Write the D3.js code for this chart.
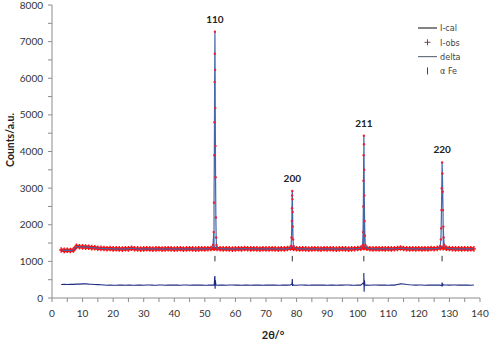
<!DOCTYPE html>
<html>
<head>
<meta charset="utf-8">
<script src="https://cdn.jsdelivr.net/npm/d3@7"></script>
<style>
  html, body { margin: 0; padding: 0; background: #fff; }
  svg { display: block; font-family: Lato, "Open Sans", sans-serif; }
</style>
</head>
<body>
<script>
// background counts, one per degree from 2θ = 3 to 138
const bgStart = 3
const background = [
  1310, 1300, 1305, 1295, 1310,
  1410, 1400, 1395, 1390, 1385,
  1375, 1370, 1360, 1355, 1350, 1345, 1350, 1340,
  1345, 1340, 1335, 1345, 1340, 1360, 1345, 1340, 1335, 1340,
  1345, 1340, 1335, 1340, 1345, 1335, 1340, 1345, 1340, 1335,
  1340, 1345, 1335, 1340, 1345, 1340, 1335, 1340, 1345, 1340,
  1345, 1350, 1360, 1350, 1345, 1340, 1345, 1340, 1335, 1340,
  1345, 1340, 1350, 1345, 1340, 1345, 1340, 1335, 1345, 1340,
  1340, 1345, 1340, 1335, 1345, 1340, 1350, 1365, 1350, 1345,
  1340, 1345, 1340, 1335, 1340, 1345, 1340, 1335, 1345, 1340,
  1345, 1340, 1335, 1340, 1345, 1340, 1335, 1340, 1345, 1350,
  1360, 1370, 1360, 1345, 1340, 1345, 1340, 1345, 1340, 1345,
  1340, 1345, 1350, 1365, 1350, 1345, 1340, 1345, 1340, 1345,
  1340, 1345, 1340, 1350, 1345, 1355, 1370, 1370, 1360, 1350,
  1345, 1340, 1345, 1340, 1345, 1340, 1345, 1340
]

// difference curve (already offset), one per degree from 2θ = 3
const deltaBase = [
  370, 372, 368, 375, 372, 378, 380, 385, 390, 380,
  375, 370, 365, 360, 355, 350, 352, 348, 350, 352,
  355, 350, 356, 352, 350, 355, 352, 349, 353, 356,
  352, 350, 355, 353, 349, 352, 356, 351, 354, 350,
  353, 356, 350, 352, 355, 351, 354, 350, 352, 356,
  353, 350, 355, 352, 349, 353, 356, 351, 352, 350,
  354, 352, 349, 355, 351, 353, 350, 352, 355, 351,
  353, 350, 352, 356, 351, 354, 352, 349, 353, 355,
  352, 350, 354, 352, 356, 351, 353, 350, 355, 352,
  350, 354, 351, 353, 356, 352, 350, 354, 352, 351,
  354, 350, 353, 356, 352, 351, 354, 350, 353, 352,
  370, 385, 382, 368, 360, 355, 352, 356, 353, 350,
  354, 352, 356, 351, 353, 358, 355, 352, 356, 353,
  351, 354, 352, 355, 350, 353
]

// peak profiles [2θ, counts]
const peak110 = [[52.7, 1450], [52.9, 1800], [53.0, 2600], [53.1, 3900], [53.15, 4800], [53.2, 5900], [53.25, 6670], [53.3, 7270], [53.35, 6230], [53.4, 5190], [53.45, 4150], [53.5, 3300], [53.6, 2200], [53.7, 1650], [53.8, 1450]]
const peak200 = [[78.2, 1420], [78.35, 1650], [78.45, 2100], [78.5, 2450], [78.55, 2800], [78.6, 2920], [78.65, 2700], [78.7, 2350], [78.75, 1950], [78.85, 1600], [79.0, 1420]]
const peak211 = [[101.6, 1440], [101.75, 1800], [101.85, 2500], [101.9, 3200], [101.95, 3900], [102.0, 4430], [102.05, 4200], [102.1, 3500], [102.15, 2800], [102.25, 2100], [102.35, 1700], [102.5, 1450]]
const peak220 = [[127.0, 1420], [127.2, 1600], [127.3, 1900], [127.4, 2400], [127.5, 3000], [127.6, 3700], [127.7, 3400], [127.8, 2900], [127.9, 2400], [128.0, 1950], [128.1, 1650], [128.3, 1450]]

const deltaSpikes = [
  [53.1, 400], [53.2, 560], [53.3, 600], [53.35, 250], [53.45, 480], [53.6, 360],
  [78.5, 380], [78.6, 520], [78.7, 330], [78.8, 370],
  [101.9, 420], [102.0, 680], [102.1, 170], [102.2, 480], [102.35, 350],
  [127.5, 330], [127.6, 420], [127.7, 320], [127.8, 380]
]

const hkl = ['110', '200', '211', '220']
const peakPos = [53.3, 78.6, 102.0, 127.6]
const peakTop = [7270, 2920, 4430, 3700]
const feTick = [1000, 1150]

const xTicks = d3.range(0, 141, 10)
const yTicks = d3.range(0, 8001, 1000)

const W = 489, H = 342
const svg = d3.select('body').append('svg').attr('width', W).attr('height', H)

const x = d3.scaleLinear().domain([0, 140]).range([52, 480])
const y = d3.scaleLinear().domain([0, 8000]).range([298, 5])

const peaks = [peak110, peak200, peak211, peak220]
const peakPts = [].concat(...peaks)
const bgPts = background.map((v, i) => [bgStart + i, v])
const calc = bgPts.concat(peakPts).sort((a, b) => a[0] - b[0])
const delta = deltaBase.map((v, i) => [bgStart + i, v]).concat(deltaSpikes).sort((a, b) => a[0] - b[0])

const line = d3.line().x(d => x(d[0])).y(d => y(d[1]))

// axes
const axisColor = '#8c8c8c'
const xAxis = svg.append('g').attr('transform', 'translate(0,298)')
xAxis.append('line').attr('x1', x(0)).attr('x2', x(140)).attr('stroke', axisColor)
xAxis.selectAll('.tk').data(d3.range(0, 141, 5)).join('line')
  .attr('x1', d => x(d)).attr('x2', d => x(d)).attr('y1', 0).attr('y2', 4)
  .attr('stroke', axisColor)
xAxis.selectAll('text').data(xTicks).join('text')
  .attr('x', d => x(d)).attr('y', 19).attr('text-anchor', 'middle')
  .attr('font-size', 10).attr('fill', '#333').text(d => d)

const yAxis = svg.append('g')
yAxis.append('line').attr('x1', x(0)).attr('x2', x(0)).attr('y1', y(0)).attr('y2', y(8000)).attr('stroke', axisColor)
yAxis.selectAll('.tk').data(d3.range(0, 8001, 500)).join('line')
  .attr('x1', x(0) - 4).attr('x2', x(0)).attr('y1', d => y(d)).attr('y2', d => y(d))
  .attr('stroke', axisColor)
yAxis.selectAll('text').data(yTicks).join('text')
  .attr('x', x(0) - 9).attr('y', d => y(d) + 3.5).attr('text-anchor', 'end')
  .attr('font-size', 10).attr('fill', '#333').text(d => d)

svg.append('text').attr('transform', 'translate(14,140) rotate(-90)')
  .attr('text-anchor', 'middle').attr('font-size', 10.5).attr('font-weight', 'bold')
  .attr('fill', '#222').text('Counts/a.u.')
svg.append('text').attr('x', 273).attr('y', 339).attr('text-anchor', 'middle')
  .attr('font-size', 11).attr('font-weight', 'bold').attr('fill', '#222').text('2θ/°')

// observed background: dense red band of markers
svg.append('path').datum(bgPts).attr('d', line)
  .attr('fill', 'none').attr('stroke', '#ff0d0d').attr('stroke-width', 3.5)
svg.append('g').selectAll('path').data(bgPts).join('path')
  .attr('transform', d => `translate(${x(d[0])},${y(d[1])})`)
  .attr('d', 'M-2,0H2M0,-2.8V2.8')
  .attr('stroke', '#ff0d0d').attr('stroke-width', 1.4).attr('fill', 'none')

// calculated
svg.append('path').datum(calc).attr('d', line)
  .attr('fill', 'none').attr('stroke', '#4466aa').attr('stroke-width', 1.2)
// observed points on the peaks
svg.append('g').selectAll('circle').data(peakPts).join('circle')
  .attr('cx', d => x(d[0])).attr('cy', d => y(d[1])).attr('r', 1.2)
  .attr('fill', '#e8203a')

// delta
svg.append('path').datum(delta).attr('d', line)
  .attr('fill', 'none').attr('stroke', '#1c2c80').attr('stroke-width', 1.1)

// α-Fe reflection ticks
svg.append('g').selectAll('line').data(peakPos).join('line')
  .attr('x1', d => x(d)).attr('x2', d => x(d))
  .attr('y1', y(feTick[0])).attr('y2', y(feTick[1]))
  .attr('stroke', '#333').attr('stroke-width', 1)

// hkl labels
svg.append('g').selectAll('text').data(hkl).join('text')
  .attr('x', (d, i) => x(peakPos[i])).attr('y', (d, i) => y(peakTop[i]) - 9)
  .attr('text-anchor', 'middle').attr('font-size', 10).attr('font-weight', 'bold')
  .attr('fill', '#222').text(d => d)

// legend
const legend = svg.append('g').attr('font-family', '"Liberation Sans Narrow", "DejaVu Sans Condensed", sans-serif')
  .attr('font-size', 9).attr('fill', '#444')
const legItems = ['I-cal', 'I-obs', 'delta', 'α Fe']
legItems.forEach((t, i) => {
  const ly = 28 + i * 14.3
  if (i === 0) legend.append('line').attr('x1', 418).attr('x2', 437).attr('y1', ly).attr('y2', ly).attr('stroke', '#333').attr('stroke-width', 1.2)
  if (i === 1) legend.append('path').attr('d', `M424.5,${ly}h6M427.5,${ly - 3}v6`).attr('stroke', '#6a4a55').attr('stroke-width', 1)
  if (i === 2) legend.append('line').attr('x1', 418).attr('x2', 437).attr('y1', ly).attr('y2', ly).attr('stroke', '#6a7280').attr('stroke-width', 1.2)
  if (i === 3) legend.append('line').attr('x1', 427.5).attr('x2', 427.5).attr('y1', ly - 3.5).attr('y2', ly + 3.5).attr('stroke', '#444').attr('stroke-width', 1)
  legend.append('text').attr('x', 440).attr('y', ly + 3.2).text(t)
})
</script>
</body>
</html>
